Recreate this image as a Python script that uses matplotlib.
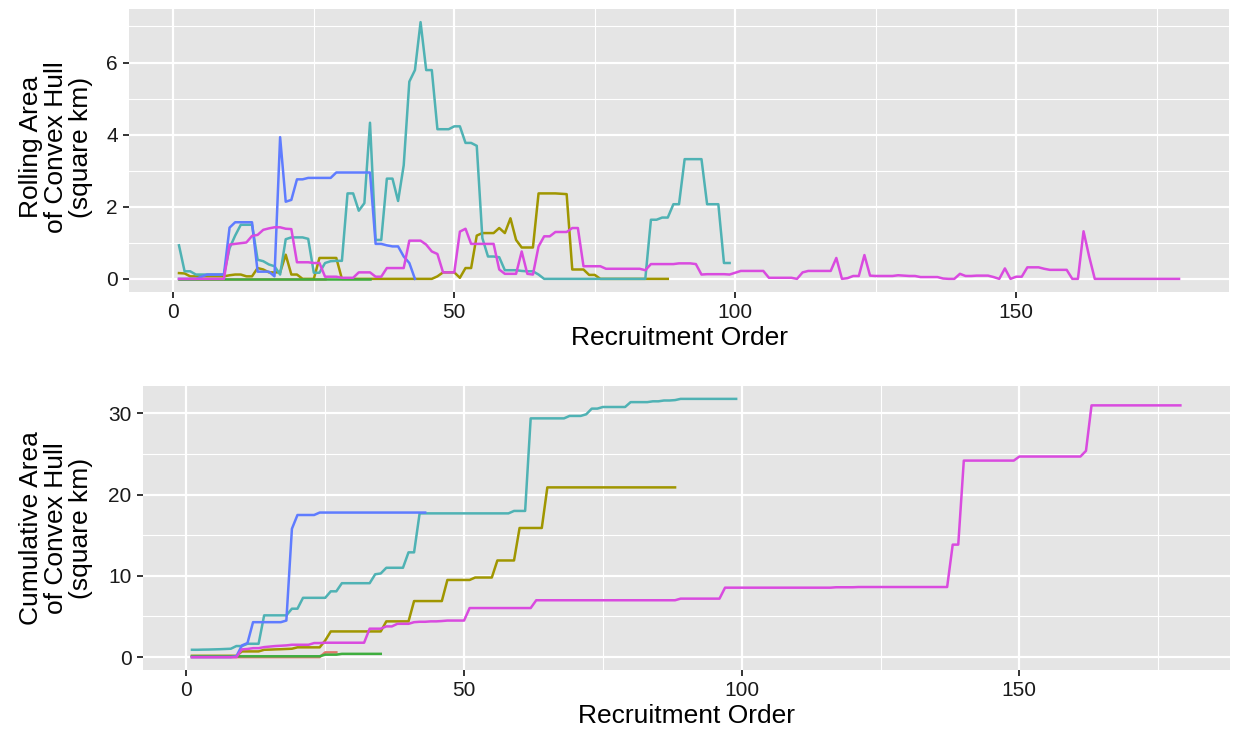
import matplotlib
matplotlib.use('Agg')
import matplotlib.pyplot as plt
import numpy as np

plt.rcParams['font.family'] = ['Liberation Sans', 'DejaVu Sans']

# rolling convex hull area per recruitment step (square km)
red_roll = [0] * 27
green_roll = [0] * 35
olive_roll = [
    0.16, 0.15, 0.07, 0.07, 0.07, 0.07, 0.07, 0.07, 0.07, 0.10,
    0.12, 0.12, 0.07, 0.07, 0.30, 0.26, 0.18, 0.18, 0.18, 0.67,
    0.12, 0.12, 0, 0, 0, 0.58, 0.58, 0.58, 0.58, 0,
    0, 0, 0, 0, 0, 0, 0, 0, 0, 0,
    0, 0, 0, 0, 0, 0, 0.07, 0.18, 0.18, 0.18,
    0.03, 0.30, 0.30, 1.20, 1.27, 1.27, 1.27, 1.41, 1.27, 1.68,
    1.08, 0.87, 0.87, 0.87, 2.37, 2.37, 2.37, 2.37, 2.36, 2.35,
    0.26, 0.26, 0.26, 0.11, 0.11, 0, 0, 0, 0, 0,
    0, 0, 0, 0, 0, 0, 0, 0]
teal_roll = [
    0.93, 0.21, 0.21, 0.12, 0.12, 0.12, 0.12, 0.12, 0.12, 0.85,
    1.20, 1.50, 1.50, 1.50, 0.53, 0.49, 0.40, 0.35, 0.12, 1.10,
    1.15, 1.15, 1.15, 1.11, 0.17, 0.17, 0.44, 0.49, 0.50, 0.50,
    2.37, 2.37, 1.89, 2.10, 4.33, 1.08, 1.08, 2.78, 2.78, 2.16,
    3.15, 5.47, 5.79, 7.12, 5.79, 5.79, 4.15, 4.15, 4.15, 4.23,
    4.23, 3.77, 3.77, 3.69, 1.13, 0.62, 0.62, 0.60, 0.24, 0.24,
    0.24, 0.22, 0.21, 0.21, 0.12, 0, 0, 0, 0, 0,
    0, 0, 0, 0, 0, 0, 0, 0, 0, 0,
    0, 0, 0, 0, 1.64, 1.64, 1.70, 1.70, 2.07, 2.07,
    3.32, 3.32, 3.32, 3.32, 2.07, 2.07, 2.07, 0.44, 0.44]
blue_roll = [
    0, 0, 0, 0, 0.06, 0.12, 0.12, 0.12, 0.12, 1.42,
    1.57, 1.57, 1.57, 1.57, 0.20, 0.20, 0.20, 0.07, 3.93, 2.14,
    2.19, 2.76, 2.76, 2.80, 2.80, 2.80, 2.80, 2.80, 2.95, 2.95,
    2.95, 2.95, 2.95, 2.95, 2.95, 0.97, 0.97, 0.93, 0.90, 0.90,
    0.62, 0.44, 0]
magenta_roll = [
    0, 0, 0, 0, 0, 0, 0, 0, 0, 0.95,
    0.97, 0.99, 1.01, 1.19, 1.22, 1.36, 1.40, 1.43, 1.43, 1.39,
    1.38, 0.46, 0.46, 0.46, 0.44, 0.44, 0.06, 0.06, 0.06, 0.03,
    0.03, 0.03, 0.18, 0.18, 0.18, 0.06, 0.06, 0.30, 0.30, 0.30,
    0.30, 1.06, 1.06, 1.06, 0.95, 0.76, 0.69, 0.18, 0.18, 0.18,
    1.31, 1.39, 0.97, 0.97, 0.97, 0.97, 0.97, 0.26, 0.14, 0.14,
    0.14, 0.76, 0.14, 0.12, 0.90, 1.18, 1.18, 1.30, 1.30, 1.30,
    1.41, 1.41, 0.35, 0.35, 0.35, 0.35, 0.28, 0.28, 0.28, 0.28,
    0.28, 0.28, 0.28, 0.24, 0.41, 0.41, 0.41, 0.41, 0.41, 0.43,
    0.43, 0.43, 0.41, 0.12, 0.13, 0.13, 0.13, 0.13, 0.12, 0.17,
    0.22, 0.22, 0.22, 0.22, 0.22, 0.03, 0.03, 0.03, 0.03, 0.03,
    0.00, 0.18, 0.22, 0.22, 0.22, 0.22, 0.22, 0.58, 0.00, 0.02,
    0.08, 0.08, 0.66, 0.09, 0.08, 0.08, 0.08, 0.08, 0.10, 0.09,
    0.08, 0.08, 0.05, 0.05, 0.05, 0.05, 0.01, 0.00, 0.00, 0.14,
    0.08, 0.08, 0.09, 0.09, 0.09, 0.05, 0.00, 0.29, 0.00, 0.06,
    0.06, 0.32, 0.32, 0.32, 0.28, 0.25, 0.25, 0.25, 0.25, 0.00,
    0.00, 1.32, 0.62, 0, 0, 0, 0, 0, 0, 0,
    0, 0, 0, 0, 0, 0, 0, 0, 0]

# cumulative convex hull area (square km)
red_cum = [0] * 24 + [0.58, 0.58, 0.58]
green_cum = [0.10] * 24 + [0.30, 0.30, 0.30] + [0.40] * 8
olive_cum = [
    0.16, 0.16, 0.16, 0.16, 0.16, 0.16, 0.16, 0.16, 0.16, 0.70,
    0.70, 0.70, 0.70, 0.90, 0.92, 0.95, 0.97, 1.00, 1.03, 1.20,
    1.20, 1.20, 1.20, 1.20, 2.05, 3.16, 3.16, 3.16, 3.16, 3.16,
    3.16, 3.16, 3.16, 3.16, 3.16, 4.40, 4.40, 4.40, 4.40, 4.40,
    6.90, 6.90, 6.90, 6.90, 6.90, 6.90, 9.50, 9.50, 9.50, 9.50,
    9.50, 9.80, 9.80, 9.80, 9.80, 11.9, 11.9, 11.9, 11.9, 15.9,
    15.9, 15.9, 15.9, 15.9, 20.9, 20.9, 20.9, 20.9, 20.9, 20.9,
    20.9, 20.9, 20.9, 20.9, 20.9, 20.9, 20.9, 20.9, 20.9, 20.9,
    20.9, 20.9, 20.9, 20.9, 20.9, 20.9, 20.9, 20.9]
teal_cum = [
    0.90, 0.90, 0.92, 0.93, 0.95, 0.97, 1.00, 1.03, 1.36, 1.36,
    1.64, 1.64, 1.64, 5.14, 5.14, 5.14, 5.14, 5.14, 5.96, 5.96,
    7.30, 7.30, 7.30, 7.30, 7.30, 8.10, 8.10, 9.10, 9.10, 9.10,
    9.10, 9.10, 9.10, 10.2, 10.3, 11.0, 11.0, 11.0, 11.0, 12.9,
    12.9, 17.7, 17.7, 17.7, 17.7, 17.7, 17.7, 17.7, 17.7, 17.7,
    17.7, 17.7, 17.7, 17.7, 17.7, 17.7, 17.7, 17.7, 18.0, 18.0,
    18.0, 29.4, 29.4, 29.4, 29.4, 29.4, 29.4, 29.4, 29.7, 29.7,
    29.7, 29.9, 30.6, 30.6, 30.8, 30.8, 30.8, 30.8, 30.8, 31.4,
    31.4, 31.4, 31.4, 31.5, 31.5, 31.6, 31.6, 31.65, 31.8, 31.8,
    31.8, 31.8, 31.8, 31.8, 31.8, 31.8, 31.8, 31.8, 31.8]
blue_cum = [
    0, 0, 0, 0, 0, 0, 0, 0, 0.10, 1.44,
    1.73, 4.30, 4.30, 4.30, 4.30, 4.30, 4.30, 4.50, 15.8, 17.5,
    17.5, 17.5, 17.5, 17.8, 17.8, 17.8, 17.8, 17.8, 17.8, 17.8,
    17.8, 17.8, 17.8, 17.8, 17.8, 17.8, 17.8, 17.8, 17.8, 17.8,
    17.8, 17.8, 17.8]
magenta_cum = [
    0, 0, 0, 0, 0, 0, 0, 0, 0, 0.95,
    1.00, 1.10, 1.10, 1.23, 1.30, 1.36, 1.40, 1.44, 1.52, 1.52,
    1.52, 1.52, 1.73, 1.73, 1.77, 1.77, 1.77, 1.77, 1.77, 1.77,
    1.77, 1.77, 3.50, 3.50, 3.50, 3.78, 3.78, 4.10, 4.10, 4.10,
    4.30, 4.35, 4.35, 4.40, 4.40, 4.44, 4.50, 4.50, 4.50, 4.50,
    6.04, 6.04, 6.04, 6.04, 6.04, 6.04, 6.04, 6.04, 6.04, 6.04,
    6.04, 6.04, 7.00, 7.00, 7.00, 7.00, 7.00, 7.00, 7.00, 7.00,
    7.00, 7.00, 7.00, 7.00, 7.00, 7.00, 7.00, 7.00, 7.00, 7.00,
    7.00, 7.00, 7.00, 7.00, 7.00, 7.00, 7.00, 7.00, 7.20, 7.20,
    7.20, 7.20, 7.20, 7.20, 7.20, 7.20, 8.55, 8.55, 8.55, 8.55,
    8.55, 8.55, 8.55, 8.55, 8.55, 8.55, 8.55, 8.55, 8.55, 8.55,
    8.55, 8.55, 8.55, 8.55, 8.55, 8.55, 8.60, 8.60, 8.60, 8.60,
    8.63, 8.63, 8.63, 8.63, 8.63, 8.63, 8.63, 8.63, 8.63, 8.63,
    8.63, 8.63, 8.63, 8.63, 8.63, 8.63, 8.63, 13.85, 13.85, 24.2,
    24.2, 24.2, 24.2, 24.2, 24.2, 24.2, 24.2, 24.2, 24.2, 24.7,
    24.7, 24.7, 24.7, 24.7, 24.7, 24.7, 24.7, 24.7, 24.7, 24.7,
    24.7, 25.4, 31.0, 31.0, 31.0, 31.0, 31.0, 31.0, 31.0, 31.0,
    31.0, 31.0, 31.0, 31.0, 31.0, 31.0, 31.0, 31.0, 31.0]

colors = ['#E2766A', '#A09600', '#3FAE3F', '#4FB2B4', '#5F7CFF', '#D94BDF']
roll_series = [red_roll, olive_roll, green_roll, teal_roll, blue_roll, magenta_roll]
cum_series = [red_cum, olive_cum, green_cum, teal_cum, blue_cum, magenta_cum]


def style_panel(ax, yticks, yminor, ymax):
    ax.set_facecolor('#E5E5E5')
    for s in ax.spines.values():
        s.set_visible(False)
    ax.set_xlim(-7.9, 187.9)
    ax.set_ylim(-0.05 * ymax, 1.05 * ymax)
    ax.set_xticks([0, 50, 100, 150])
    ax.set_xticks([25, 75, 125, 175], minor=True)
    ax.set_yticks(yticks)
    ax.set_yticks(yminor, minor=True)
    ax.grid(True, which='major', color='white', linewidth=1.6)
    ax.grid(True, which='minor', color='white', linewidth=0.8)
    ax.set_axisbelow(True)
    ax.tick_params(which='major', length=4.5, width=1.4, color='#333333',
                   labelsize=15, labelcolor='#1a1a1a', pad=3.5)
    ax.tick_params(which='minor', length=0)
    ax.set_xlabel('Recruitment Order', fontsize=19, labelpad=3)


fig = plt.figure(figsize=(12.33, 7.37), dpi=100)
ax1 = fig.add_axes([0.1046, 0.6042, 0.8922, 0.3832])
ax2 = fig.add_axes([0.1156, 0.0909, 0.8818, 0.3854])

for vals, c in zip(roll_series, colors):
    ax1.plot(np.arange(1, len(vals) + 1), vals, color=c, linewidth=1.8)
for vals, c in zip(cum_series, colors):
    ax2.plot(np.arange(1, len(vals) + 1), vals, color=c, linewidth=1.8)

style_panel(ax1, [0, 2, 4, 6], [1, 3, 5, 7], 7.12)
style_panel(ax2, [0, 10, 20, 30], [5, 15, 25], 31.8)

fig.text(56 / 1233, 1 - 147 / 737, 'Rolling Area\nof Convex Hull\n(square km)',
         rotation=90, ha='center', va='center', multialignment='center',
         fontsize=19, linespacing=1.05)
fig.text(56 / 1233, 1 - 528 / 737, 'Cumulative Area\nof Convex Hull\n(square km)',
         rotation=90, ha='center', va='center', multialignment='center',
         fontsize=19, linespacing=1.05)

fig.savefig('out.png', dpi=100)
